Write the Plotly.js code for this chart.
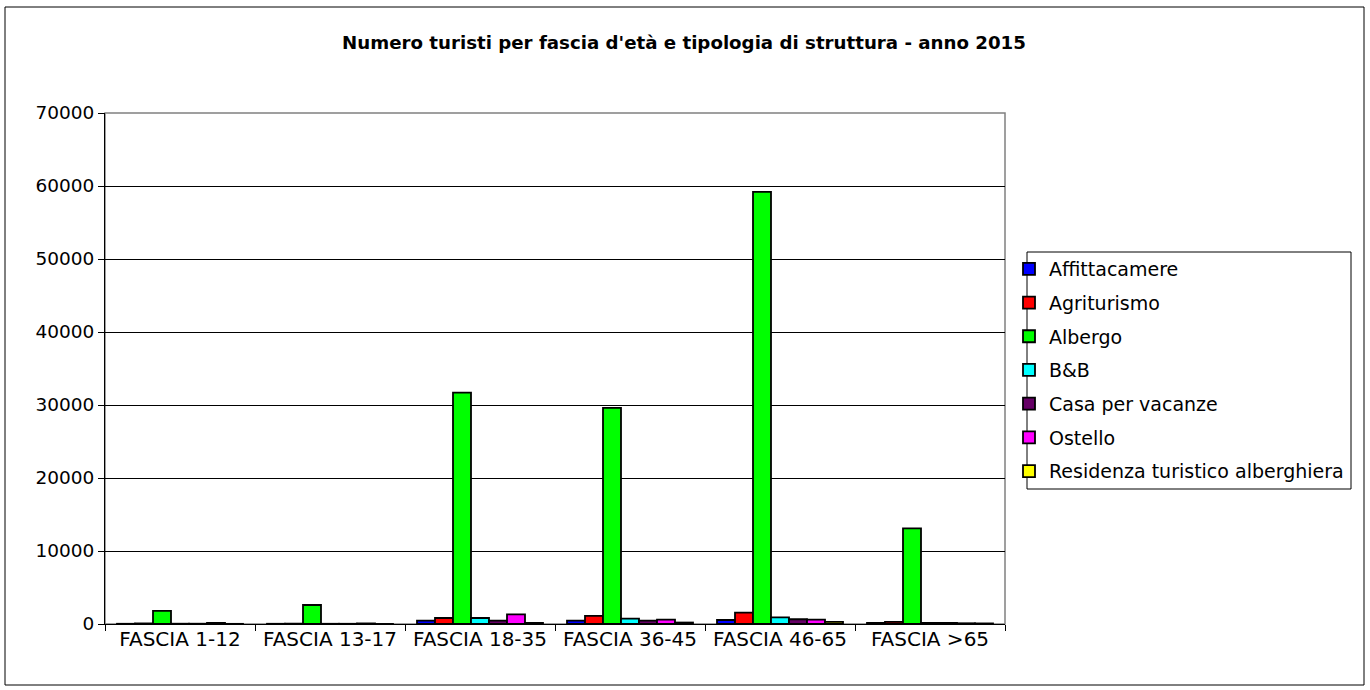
<!DOCTYPE html>
<html>
<head>
<meta charset="utf-8">
<script src="https://cdn.plot.ly/plotly-3.0.1.min.js"></script>
<style>
html, body { margin: 0; padding: 0; background: #fff; }
#chart { width: 1370px; height: 690px; }
</style>
</head>
<body>
<div id="chart"></div>
<script>
const categories = ["FASCIA 1-12", "FASCIA 13-17", "FASCIA 18-35", "FASCIA 36-45", "FASCIA 46-65", "FASCIA >65"];
const seriesNames = ["Affittacamere", "Agriturismo", "Albergo", "B&B", "Casa per vacanze", "Ostello", "Residenza turistico alberghiera"];
const affittacamere = [30, 30, 450, 450, 550, 150];
const agriturismo = [80, 50, 820, 1100, 1550, 300];
const albergo = [1800, 2600, 31700, 29600, 59200, 13100];
const bb = [40, 30, 820, 730, 920, 150];
const casaVacanze = [40, 30, 450, 450, 650, 150];
const ostello = [150, 80, 1330, 600, 600, 100];
const residenza = [20, 10, 150, 200, 300, 80];
const seriesValues = [affittacamere, agriturismo, albergo, bb, casaVacanze, ostello, residenza];
const colors = ["#0000FF", "#FF0000", "#00FF00", "#00FFFF", "#660066", "#FF00FF", "#FFFF00"];
const yTicks = [0, 10000, 20000, 30000, 40000, 50000, 60000, 70000];

const FONT = "DejaVu Sans, Liberation Sans, Arial, sans-serif";

// plot area in pixels: x 105..1005, y 113..624
const PX = (px) => (px - 105) / 900;
const PY = (py) => (624 - py) / 511;

const traces = seriesNames.map((name, i) => ({
  type: "bar",
  name: name,
  x: categories,
  y: seriesValues[i],
  legendgroup: "g" + i,
  marker: { color: colors[i], line: { color: "#000000", width: 1.8 } },
  hoverinfo: "x+y+name"
}));

const layout = {
  width: 1370,
  height: 690,
  margin: { l: 105, r: 365, t: 113, b: 66, pad: 0 },
  paper_bgcolor: "#ffffff",
  plot_bgcolor: "#ffffff",
  font: { family: FONT, size: 18, color: "#000000" },
  title: {
    text: "<b>Numero turisti per fascia d'età e tipologia di struttura - anno 2015</b>",
    font: { family: FONT, size: 18.2, color: "#000000" },
    x: 684 / 1370, xref: "container", xanchor: "center",
    y: 1 - 43 / 690, yref: "container", yanchor: "middle"
  },
  barmode: "group",
  bargap: 0.16,
  bargroupgap: 0,
  xaxis: {
    type: "category",
    showgrid: false,
    showline: true, linecolor: "#000000", linewidth: 1,
    ticks: "outside", tickson: "boundaries", ticklen: 6, tickcolor: "#000000",
    ticklabelstandoff: -3,
    tickfont: { family: FONT, size: 20, color: "#000000" },
    zeroline: false
  },
  yaxis: {
    range: [0, 70000],
    tickvals: yTicks,
    ticktext: yTicks.map(v => String(v)),
    showgrid: true, gridcolor: "#000000", gridwidth: 1,
    showline: true, linecolor: "#000000", linewidth: 1,
    ticks: "outside", ticklen: 6, tickcolor: "#000000",
    tickfont: { family: FONT, size: 18.5, color: "#000000" },
    zeroline: false
  },
  legend: {
    x: PX(1009), xanchor: "left",
    y: PY(250), yanchor: "top",
    borderwidth: 0,
    bgcolor: "rgba(0,0,0,0)",
    font: { family: FONT, size: 19, color: "#000000" },
    traceorder: "grouped",
    tracegroupgap: 6,
    itemclick: false
  },
  shapes: [
    { type: "rect", xref: "x domain", yref: "y domain", x0: 0, x1: 1, y0: 0, y1: 1,
      line: { color: "#808080", width: 1.5 }, layer: "below" },
    { type: "rect", xref: "paper", yref: "paper",
      x0: PX(5), x1: PX(1364), y0: PY(685), y1: PY(7),
      line: { color: "#000000", width: 1 }, layer: "below" },
    { type: "rect", xref: "paper", yref: "paper",
      x0: PX(1027), x1: PX(1351), y0: PY(489), y1: PY(252),
      line: { color: "#000000", width: 1 }, layer: "below" }
  ],
  showlegend: true
};

Plotly.newPlot("chart", traces, layout, { displayModeBar: false, staticPlot: true });
</script>
</body>
</html>
